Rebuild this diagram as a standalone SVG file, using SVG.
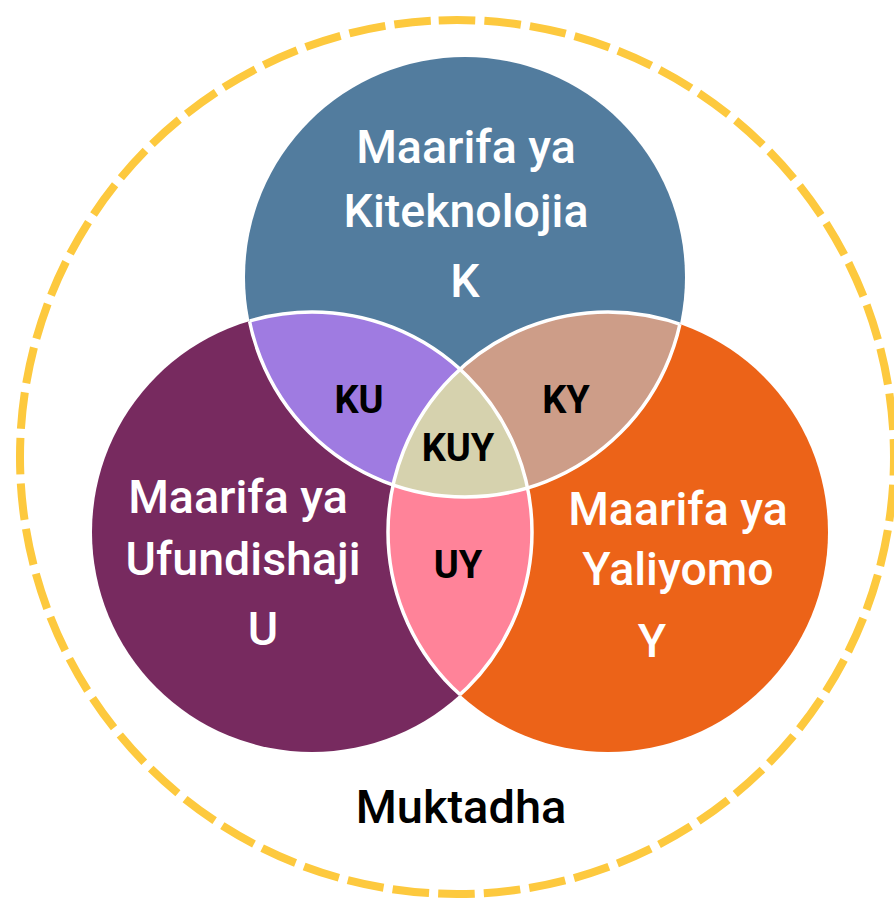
<svg xmlns="http://www.w3.org/2000/svg" width="894" height="900" viewBox="0 0 894 900">
  <style>
    .lbl { font-family: Roboto, "Liberation Sans", sans-serif; font-weight: 500; font-size: 46.5px; fill: #ffffff; text-anchor: middle; }
    .sub { font-family: Roboto, "Liberation Sans", sans-serif; font-weight: 700; font-size: 38px; fill: #000000; text-anchor: middle; }
    .ctx { font-family: Roboto, "Liberation Sans", sans-serif; font-weight: 500; font-size: 47px; fill: #000000; text-anchor: middle; }
    .edge { fill: none; stroke: #ffffff; stroke-width: 3.5; }
  </style>
  <defs>
    <clipPath id="cK"><circle cx="465" cy="277" r="220"/></clipPath>
    <clipPath id="cU"><circle cx="312" cy="532" r="220"/></clipPath>
    <clipPath id="cY"><circle cx="608" cy="532" r="220"/></clipPath>
    <clipPath id="cUY"><circle cx="312" cy="532" r="220"/><circle cx="608" cy="532" r="220"/></clipPath>
    <clipPath id="cKY"><circle cx="465" cy="277" r="220"/><circle cx="608" cy="532" r="220"/></clipPath>
    <clipPath id="cKU"><circle cx="465" cy="277" r="220"/><circle cx="312" cy="532" r="220"/></clipPath>
  </defs>
  <rect width="894" height="900" fill="#ffffff"/>

  <g id="muktadha">
    <circle cx="457" cy="457" r="437" fill="none" stroke="#FDC93E" stroke-width="8" stroke-dasharray="36.6 9.17" transform="rotate(-92.4 457 457)"/>
    <text class="ctx" x="461" y="823">Muktadha</text>
  </g>

  <g id="K">
    <circle cx="465" cy="277" r="220" fill="#527C9E"/>
  </g>
  <g id="U">
    <circle cx="312" cy="532" r="220" fill="#772A5F"/>
  </g>
  <g id="Y">
    <circle cx="608" cy="532" r="220" fill="#EC6318"/>
  </g>

  <g id="KU" clip-path="url(#cK)">
    <circle cx="312" cy="532" r="220" fill="#9F7BE1"/>
  </g>
  <g id="KY" clip-path="url(#cK)">
    <circle cx="608" cy="532" r="220" fill="#CD9D88"/>
  </g>
  <g id="UY" clip-path="url(#cU)">
    <circle cx="608" cy="532" r="220" fill="#FF8399"/>
  </g>
  <g id="KUY" clip-path="url(#cK)">
    <g clip-path="url(#cU)">
      <circle cx="608" cy="532" r="220" fill="#D6D2AE"/>
    </g>
  </g>

  <g id="connectors">
    <circle class="edge" cx="465" cy="277" r="220" clip-path="url(#cUY)"/>
    <circle class="edge" cx="312" cy="532" r="220" clip-path="url(#cKY)"/>
    <circle class="edge" cx="608" cy="532" r="220" clip-path="url(#cKU)"/>
  </g>

  <g id="labels">
    <text class="lbl" x="466" y="163">Maarifa ya</text>
    <text class="lbl" x="466" y="227">Kiteknolojia</text>
    <text class="lbl" x="465" y="297">K</text>
    <text class="lbl" x="238" y="513">Maarifa ya</text>
    <text class="lbl" x="243" y="575">Ufundishaji</text>
    <text class="lbl" x="263" y="645">U</text>
    <text class="lbl" x="678" y="525">Maarifa ya</text>
    <text class="lbl" x="678" y="585">Yaliyomo</text>
    <text class="lbl" x="652" y="657">Y</text>
    <text class="sub" x="359" y="413">KU</text>
    <text class="sub" x="566" y="413">KY</text>
    <text class="sub" x="458" y="461">KUY</text>
    <text class="sub" x="458" y="578">UY</text>
  </g>
</svg>
